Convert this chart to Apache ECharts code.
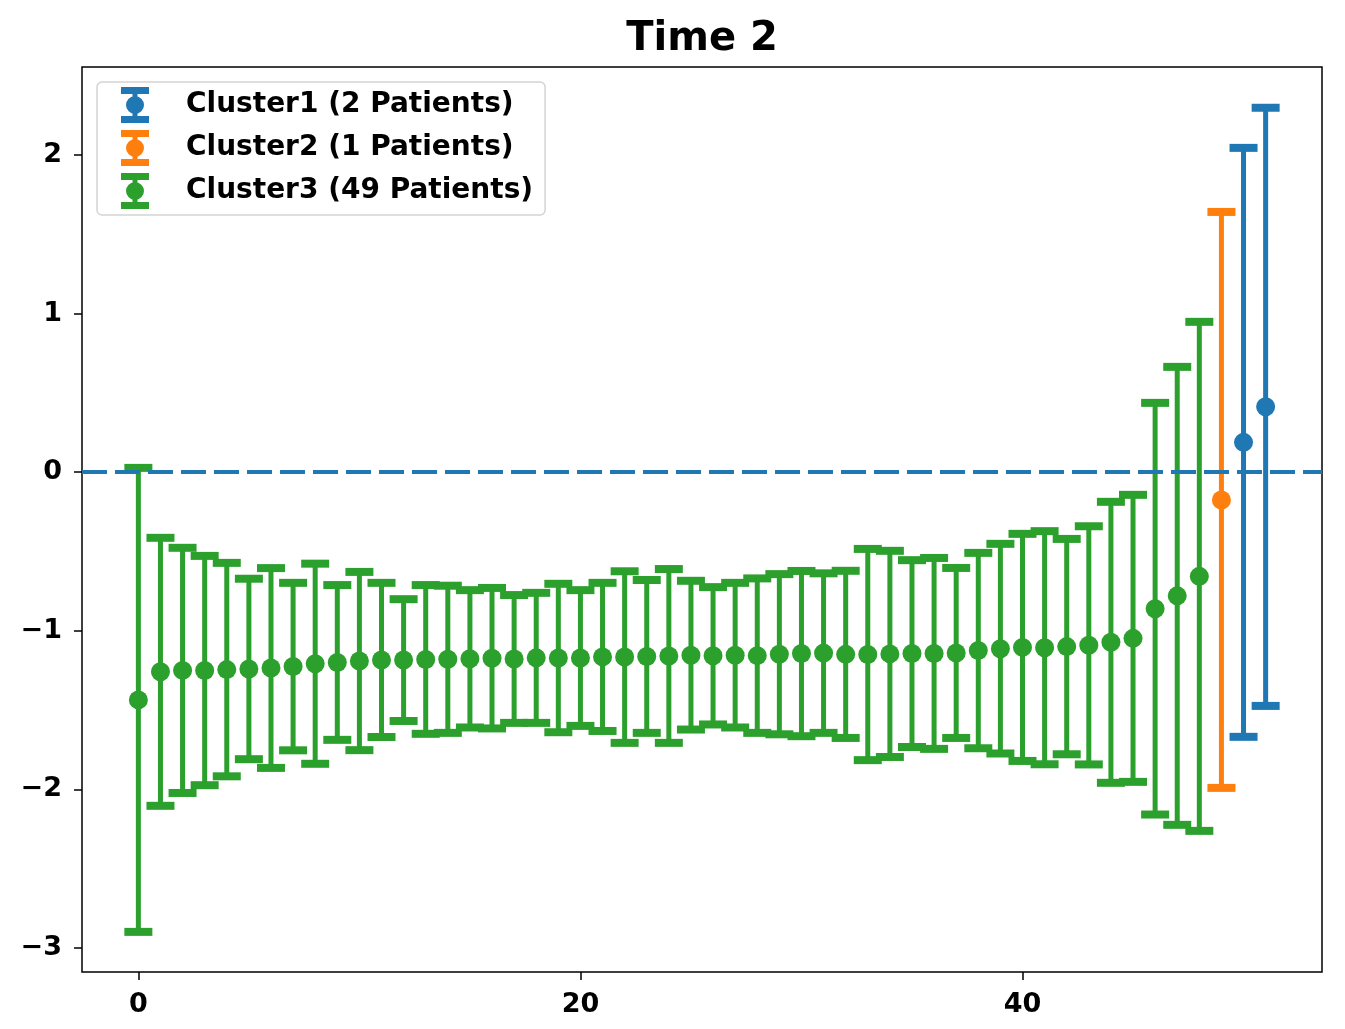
<!DOCTYPE html>
<html>
<head>
<meta charset="utf-8">
<script src="https://cdn.jsdelivr.net/npm/echarts@6/dist/echarts.min.js"></script>
<style>html,body{margin:0;padding:0;background:#fff;}#c{width:1345px;height:1029px;}</style>
</head>
<body>
<div id="c"></div>
<script>
// ---- data ----
const titleText = 'Time 2';
const seriesNames = ['Cluster1 (2 Patients)', 'Cluster2 (1 Patients)', 'Cluster3 (49 Patients)'];
const colors = ['#1f77b4', '#ff7f0e', '#2ca02c'];

const cluster1X = [50, 51];
const cluster1Mean = [0.188, 0.412];
const cluster1Err = [1.857, 1.886];

const cluster2X = [49];
const cluster2Mean = [-0.175];
const cluster2Err = [1.816];

const cluster3X = [0, 1, 2, 3, 4, 5, 6, 7, 8, 9, 10, 11, 12, 13, 14, 15, 16, 17, 18, 19, 20, 21, 22, 23, 24,
  25, 26, 27, 28, 29, 30, 31, 32, 33, 34, 35, 36, 37, 38, 39, 40, 41, 42, 43, 44, 45, 46, 47, 48];
const cluster3Mean = [-1.436, -1.259, -1.250, -1.251, -1.245, -1.241, -1.235, -1.226, -1.208, -1.200,
  -1.191, -1.184, -1.185, -1.181, -1.180, -1.177, -1.173, -1.178, -1.171, -1.172,
  -1.172, -1.165, -1.166, -1.162, -1.159, -1.154, -1.158, -1.154, -1.157, -1.148,
  -1.144, -1.141, -1.149, -1.150, -1.146, -1.144, -1.143, -1.140, -1.125, -1.113,
  -1.105, -1.107, -1.100, -1.092, -1.073, -1.048, -0.861, -0.780, -0.657];
const cluster3Err = [1.463, 0.845, 0.773, 0.723, 0.673, 0.569, 0.630, 0.528, 0.631, 0.488,
  0.562, 0.486, 0.384, 0.469, 0.464, 0.433, 0.443, 0.403, 0.410, 0.468,
  0.428, 0.467, 0.541, 0.482, 0.548, 0.469, 0.433, 0.456, 0.487, 0.505,
  0.521, 0.503, 0.527, 0.666, 0.650, 0.589, 0.602, 0.536, 0.616, 0.661,
  0.716, 0.735, 0.679, 0.751, 0.886, 0.905, 1.298, 1.444, 1.605];

const xTicks = [0, 20, 40];
const yTicks = [-3, -2, -1, 0, 1, 2];
const refLineY = 0;

// ---- chart ----
const FONT = 'DejaVu Sans';
const legendIcon = 'path://M0,0 H28 V7 H0 Z M0,29 H28 V36 H0 Z M11.5,0 H16.5 V36 H11.5 Z M5,18 A9,9 0 1 1 23,18 A9,9 0 1 1 5,18 Z';

function build(xs, means, errs) {
  return xs.map((x, i) => [x, means[i], errs[i]]);
}

function makeRender(color) {
  return function (params, api) {
    const x = api.value(0), m = api.value(1), e = api.value(2);
    const top = api.coord([x, m + e]);
    const bot = api.coord([x, m - e]);
    const mid = api.coord([x, m]);
    const capW = 28, capH = 8;
    return {
      type: 'group',
      children: [
        { type: 'line', shape: { x1: top[0], y1: top[1], x2: bot[0], y2: bot[1] }, style: { stroke: color, lineWidth: 5 } },
        { type: 'rect', shape: { x: top[0] - capW / 2, y: top[1] - capH / 2, width: capW, height: capH }, style: { fill: color } },
        { type: 'rect', shape: { x: bot[0] - capW / 2, y: bot[1] - capH / 2, width: capW, height: capH }, style: { fill: color } },
        { type: 'circle', shape: { cx: mid[0], cy: mid[1], r: 9.5 }, style: { fill: color } }
      ]
    };
  };
}

const allData = [
  build(cluster1X, cluster1Mean, cluster1Err),
  build(cluster2X, cluster2Mean, cluster2Err),
  build(cluster3X, cluster3Mean, cluster3Err)
];

const series = allData.map((d, k) => ({
  name: seriesNames[k],
  type: 'custom',
  renderItem: makeRender(colors[k]),
  data: d,
  encode: { x: 0, y: 1 },
  itemStyle: { color: colors[k] },
  z: 2,
  silent: true
}));

series.push({
  type: 'line',
  data: [],
  z: 5,
  silent: true,
  markLine: {
    silent: true,
    symbol: 'none',
    label: { show: false },
    lineStyle: { color: '#1f77b4', width: 4, type: [25, 8] },
    data: [{ yAxis: refLineY }],
    animation: false
  }
});

const chart = echarts.init(document.getElementById('c'), null, { renderer: 'canvas' });
chart.setOption({
  animation: false,
  backgroundColor: '#fff',
  textStyle: { fontFamily: FONT },
  title: {
    text: titleText,
    left: 702,
    textAlign: 'center',
    top: 20,
    padding: 0,
    textStyle: { fontFamily: FONT, fontWeight: 'bold', fontSize: 40, color: '#000' }
  },
  legend: {
    orient: 'vertical',
    left: 97,
    top: 82,
    padding: [5, 12, 6, 24],
    itemGap: 7,
    itemWidth: 28,
    itemHeight: 36,
    selectedMode: false,
    backgroundColor: '#fff',
    borderColor: '#d4d4d4',
    borderWidth: 1.5,
    borderRadius: 5,
    data: seriesNames.map((n) => ({ name: n, icon: legendIcon })),
    textStyle: { fontFamily: FONT, fontWeight: 'bold', fontSize: 28, color: '#000', padding: [5, 0, 0, 32] }
  },
  grid: {
    left: 82, top: 67, width: 1240, height: 905,
    show: true, borderColor: '#000', borderWidth: 1.5, backgroundColor: 'transparent'
  },
  xAxis: {
    type: 'value',
    min: -2.55, max: 53.55,
    splitLine: { show: false },
    axisLine: { show: false, onZero: false },
    axisTick: { show: true, length: 8, lineStyle: { color: '#000', width: 1.5 }, customValues: xTicks },
    axisLabel: { customValues: xTicks, margin: 19, fontFamily: FONT, fontWeight: 'bold', fontSize: 27, color: '#000' }
  },
  yAxis: {
    type: 'value',
    min: -3.152, max: 2.555,
    splitLine: { show: false },
    axisLine: { show: false, onZero: false },
    axisTick: { show: true, length: 8, lineStyle: { color: '#000', width: 1.5 }, customValues: yTicks },
    axisLabel: {
      customValues: yTicks, margin: 20, fontFamily: FONT, fontWeight: 'bold', fontSize: 27, color: '#000',
      formatter: (v) => (v < 0 ? '\u2212' + Math.abs(v) : String(v))
    }
  },
  series: series
});
</script>
</body>
</html>
